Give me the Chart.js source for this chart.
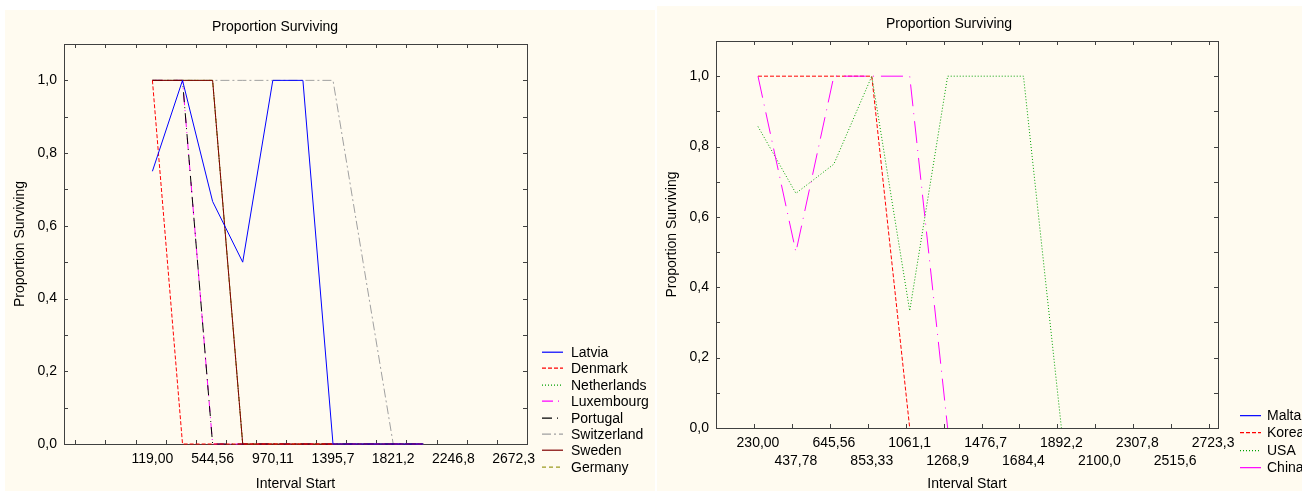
<!DOCTYPE html>
<html>
<head>
<meta charset="utf-8">
<script src="https://cdn.jsdelivr.net/npm/chart.js@4.4.1/dist/chart.umd.min.js"></script>
<style>
  html, body { margin: 0; padding: 0; background: #fff; width: 1302px; height: 491px; overflow: hidden; position: relative; font-family: "Liberation Sans", Arial, sans-serif; }
  .panel { position: absolute; background: #fffbf0; }
  .panel canvas { position: absolute; left: 0; top: 0; }
  .title { position: absolute; font-size: 14px; line-height: 16px; white-space: nowrap; color: #000; }
  .legend { position: absolute; font-size: 14px; color: #000; }
  .legend .row { display: flex; align-items: center; white-space: nowrap; }
  .legend svg { flex: none; }
</style>
</head>
<body>
<div class="panel" style="left:5px; top:10px; width:650px; height:481px;">
  <canvas id="leftChart" width="650" height="481"></canvas>
</div>
<div class="panel" style="left:657px; top:6px; width:645px; height:485px;">
  <canvas id="rightChart" width="645" height="485"></canvas>
</div>
<div class="title" style="left:212px; top:18px;">Proportion Surviving</div>
<div class="title" style="left:886px; top:15px;">Proportion Surviving</div>
<div class="legend" id="leftLegend" style="left:542px; top:344px;"></div>
<div class="legend" id="rightLegend" style="left:1240px; top:407px;"></div>

<script>
// Left chart: interval starts and tick labels
const leftStarts = [119.00, 331.78, 544.56, 757.33, 970.11, 1182.9, 1395.7, 1608.4, 1821.2, 2033.9, 2246.8, 2459.6, 2672.3];
const leftLabels = ['119,00', '331,78', '544,56', '757,33', '970,11', '1182,9', '1395,7', '1608,4', '1821,2', '2033,9', '2246,8', '2459,6', '2672,3'];
const leftWidth = 212.78;

// Proportion surviving per interval (left)
const latvia      = [0.75, 1, 0.667, 0.5, 1, 1, 0, 0, 0, 0];
const denmark     = [1, 0, 0, 0, 0, 0, 0, 0, 0, 0];
const netherlands = [1, 1, 1, 0, 0, 0, 0, 0, 0, 0];
const luxembourg  = [1, 1, 0, 0, 0, 0, 0, 0, 0, 0];
const portugal    = [1, 1, 0, 0, 0, 0, 0, 0, 0, 0];
const switzerland = [1, 1, 1, 1, 1, 1, 1, 0.5, 0, 0];
const sweden      = [1, 1, 1, 0, 0, 0, 0, 0, 0, 0];
const germany     = [1, 1, 1, 0, 0, 0, 0, 0, 0, 0];

// Right chart: interval starts and tick labels
const rightStarts = [230.00, 437.78, 645.56, 853.33, 1061.1, 1268.9, 1476.7, 1684.4, 1892.2, 2100.0, 2307.8, 2515.6, 2723.3];
const rightLabels = ['230,00', '437,78', '645,56', '853,33', '1061,1', '1268,9', '1476,7', '1684,4', '1892,2', '2100,0', '2307,8', '2515,6', '2723,3'];
const rightWidth = 207.78;

// Proportion surviving per interval (right)
const malta = [1];
const korea = [1, 1, 1, 1, 0];
const usa   = [0.857, 0.667, 0.75, 1, 0.333, 1, 1, 1, 0];
const china = [1, 0.5, 1, 1, 1, 0];

const yTicks = [0, 0.2, 0.4, 0.6, 0.8, 1.0];

// Series styles (layer: higher is drawn on top)
const leftSeries = [
  { label: 'Latvia', data: latvia, color: '#0000ff', dash: [], layer: 7 },
  { label: 'Denmark', data: denmark, color: '#ff0000', dash: [4, 2], layer: 6 },
  { label: 'Netherlands', data: netherlands, color: '#00a000', dash: [1, 2], layer: 1 },
  { label: 'Luxembourg', data: luxembourg, color: '#ff00ff', dash: [11, 5, 1, 5], layer: 3 },
  { label: 'Portugal', data: portugal, color: '#000000', dash: [10, 5, 1, 5], layer: 4 },
  { label: 'Switzerland', data: switzerland, color: '#a0a0a0', dash: [9, 3, 2, 3], layer: 0 },
  { label: 'Sweden', data: sweden, color: '#800000', dash: [], layer: 5 },
  { label: 'Germany', data: germany, color: '#9c9c20', dash: [4, 3], layer: 2 },
];

const rightSeries = [
  { label: 'Malta', data: malta, color: '#0000ff', dash: [], layer: 0 },
  { label: 'Korea', data: korea, color: '#ff0000', dash: [4, 2], layer: 1 },
  { label: 'USA', data: usa, color: '#00a000', dash: [1, 2], layer: 2 },
  { label: 'China', data: china, color: '#ff00ff', dash: [22, 7, 1, 7], layer: 3 },
];

Chart.defaults.font.family = '"Liberation Sans", Arial, sans-serif';
Chart.defaults.font.size = 14;
Chart.defaults.color = '#000';

// Frame and inward tick marks on all four sides
const frameTicks = {
  id: 'frameTicks',
  beforeDatasetsDraw(chart, args, opts) {
    const { ctx, chartArea: a, scales: { x, y } } = chart;
    const len = 4;
    ctx.save();
    ctx.strokeStyle = '#404040';
    ctx.lineWidth = 1;
    ctx.beginPath();
    for (let k = Math.ceil(x.min / opts.step); k * opts.step <= x.max; k++) {
      const px = Math.round(x.getPixelForValue(k * opts.step)) + 0.5;
      ctx.moveTo(px, a.bottom);
      ctx.lineTo(px, a.bottom - len);
      ctx.moveTo(px, a.top);
      ctx.lineTo(px, a.top + len);
    }
    for (let k = 0; k <= 11; k++) {
      const py = Math.round(y.getPixelForValue(k / 10)) + 0.5;
      ctx.moveTo(a.left, py);
      ctx.lineTo(a.left + len, py);
      ctx.moveTo(a.right, py);
      ctx.lineTo(a.right - len, py);
    }
    ctx.stroke();
    ctx.strokeRect(a.left + 0.5, a.top + 0.5, a.width, a.height);
    ctx.restore();
  }
};

function makeDatasets(series, starts) {
  return series.map(s => ({
    label: s.label,
    data: s.data.map((v, k) => ({ x: starts[k], y: v })),
    borderColor: s.color,
    backgroundColor: s.color,
    borderDash: s.dash,
    borderWidth: 1,
    pointRadius: 0,
    tension: 0,
    fill: false,
    clip: false,
    order: 10 - s.layer,
  }));
}

function makeChart(id, cfg) {
  return new Chart(document.getElementById(id), {
    type: 'line',
    data: { datasets: makeDatasets(cfg.series, cfg.starts) },
    options: {
      responsive: false,
      animation: false,
      events: [],
      layout: { padding: { left: 0, top: cfg.top, right: cfg.right, bottom: 0 } },
      plugins: {
        legend: { display: false },
        tooltip: { enabled: false },
        frameTicks: { step: cfg.step },
      },
      scales: {
        x: {
          type: 'linear',
          min: cfg.min,
          max: cfg.max,
          grid: { display: false, drawTicks: false },
          border: { display: false },
          afterBuildTicks: (scale) => { scale.ticks = cfg.starts.map(v => ({ value: v })); },
          afterFit: (scale) => { scale.height = cfg.xHeight; },
          ticks: {
            autoSkip: false,
            maxRotation: 0,
            padding: cfg.tickPad,
            font: { size: 14, lineHeight: cfg.tickLine },
            callback: cfg.xLabel,
          },
          title: {
            display: true,
            text: 'Interval Start',
            font: { size: 14, lineHeight: 1 },
            padding: { top: 0, bottom: 0 },
          },
        },
        y: {
          type: 'linear',
          min: 0,
          max: 1.1,
          grid: { display: false, drawTicks: false },
          border: { display: false },
          afterBuildTicks: (scale) => { scale.ticks = yTicks.map(v => ({ value: v })); },
          afterFit: (scale) => { scale.width = 59; },
          ticks: {
            padding: 7,
            callback: (v) => v.toFixed(1).replace('.', ','),
          },
          title: {
            display: true,
            text: 'Proportion Surviving',
            font: { size: 14, lineHeight: 1 },
            padding: { top: 8, bottom: 0 },
          },
        },
      },
    },
    plugins: [frameTicks],
  });
}

makeChart('leftChart', {
  series: leftSeries,
  starts: leftStarts,
  step: leftWidth,
  min: -506,
  max: 2767,
  top: 34,
  right: 128,
  xHeight: 47,
  tickPad: 7,
  tickLine: 1.2,
  xLabel: (v, i) => (i % 2 === 0 ? leftLabels[i] : ''),
});

makeChart('rightChart', {
  series: rightSeries,
  starts: rightStarts,
  step: rightWidth,
  min: 0,
  max: 2750,
  top: 35,
  right: 84,
  xHeight: 63,
  tickPad: 6,
  tickLine: '18px',
  xLabel: (v, i) => (i % 2 === 0 ? rightLabels[i] : ['', rightLabels[i]]),
});

// Legends built from the series definitions
function buildLegend(id, series, rowH, gap) {
  const box = document.getElementById(id);
  series.forEach(s => {
    const row = document.createElement('div');
    row.className = 'row';
    row.style.height = rowH + 'px';
    row.style.lineHeight = rowH + 'px';
    const dash = s.dash.length ? ` stroke-dasharray="${s.dash.join(' ')}"` : '';
    row.innerHTML = `<svg width="21" height="${rowH}"><line x1="0" y1="${rowH / 2}" x2="21" y2="${rowH / 2}" stroke="${s.color}" stroke-width="1.2"${dash}/></svg>` +
      `<span style="margin-left:${gap}px">${s.label}</span>`;
    box.appendChild(row);
  });
}

buildLegend('leftLegend', leftSeries, 16.4, 8);
buildLegend('rightLegend', rightSeries, 17.3, 6);
</script>
</body>
</html>
